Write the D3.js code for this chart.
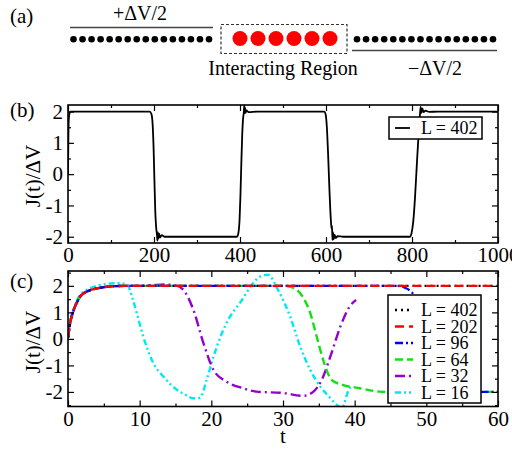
<!DOCTYPE html>
<html>
<head>
<meta charset="utf-8">
<script src="https://cdn.jsdelivr.net/npm/d3@7"></script>
<style>
body { margin: 0; background: #fff; }
text { font-family: "Liberation Serif", "DejaVu Serif", "Times New Roman", serif; fill: #000; }
</style>
</head>
<body>
<div id="chart"></div>
<script>
// --- panel (a): lead sites and interacting region
var leftSites = [0, 1, 2, 3, 4, 5, 6, 7, 8, 9, 10, 11, 12, 13, 14, 15];
var rightSites = [0, 1, 2, 3, 4, 5, 6, 7, 8, 9, 10, 11, 12, 13, 14, 15];
var dotSites = [0, 1, 2, 3, 4, 5];
var biasLabels = ['+\u0394V/2', '\u2212\u0394V/2'];

// --- panel (b): L = 402, long times
var tB = [0, 1, 2, 4, 6, 190, 194, 197, 199, 201, 203, 205, 207, 208, 209, 210, 212, 214, 218, 225,
	393, 396, 399, 401, 403, 405, 407, 409, 410, 411, 412, 413, 415, 420, 440,
	596, 599, 602, 605, 608, 611, 613, 614, 615, 616, 618, 620, 623, 627, 640,
	795, 799, 803, 807, 811, 815, 818, 820, 822, 824, 827, 831, 840, 860, 1000];
var jB = [0, 1.3, 1.8, 1.97, 2.0, 2.0, 1.92, 1.55, 0.85, -0.2, -1.2, -1.7, -1.95, -2.12, -1.86, -2.06, -1.9, -2.03, -1.95, -2.0,
	-2.0, -1.9, -1.45, -0.7, 0.3, 1.2, 1.75, 2.0, 2.2, 1.95, 2.12, 1.96, 2.04, 1.98, 2.0,
	2.0, 1.92, 1.5, 0.6, -0.5, -1.4, -1.75, -1.65, -2.1, -1.85, -2.08, -1.94, -2.04, -1.98, -2.0,
	-2.0, -1.88, -1.5, -0.75, 0.25, 1.2, 1.8, 2.15, 1.96, 2.1, 1.98, 2.03, 1.99, 2.0, 2.0];
var xTicksB = [0, 200, 400, 600, 800, 1000];
var yTicks = [-2, -1, 0, 1, 2];

// --- panel (c): short times, several lengths
var riseT = [0, 0.3, 0.75, 1.2, 1.7, 2.3, 3, 4, 5, 6, 8];
var riseJ = [0.05, 0.6, 1.05, 1.35, 1.6, 1.74, 1.83, 1.9, 1.95, 1.98, 2.0];

var t402 = riseT.concat([60]);
var j402 = riseJ.concat([2.0]);
var t202 = riseT.concat([60]);
var j202 = riseJ.concat([2.0]);
var t96 = riseT.concat([46, 47, 48, 50, 52, 54, 56, 58, 60]);
var j96 = riseJ.concat([2.0, 1.93, 1.75, 0.6, -1.2, -1.85, -2.0, -2.0, -2.0]);
var t64 = riseT.concat([20, 30, 31.2, 32.4, 33.8, 34.7, 35.6, 36.8, 38.4, 40.7, 43.5, 47, 52, 60]);
var j64 = riseJ.concat([2.0, 2.0, 1.95, 1.72, 0.97, 0.09, -0.79, -1.55, -1.74, -1.86, -1.99, -2.02, -2.0, -2.0]);
var t32 = riseT.concat([10, 12, 13.5, 15, 16.1, 17.5, 18.9, 20.3, 22.1, 24.4, 26.3, 30, 32.8, 34.2, 35.4, 36.6, 38, 39.3, 40.2]);
var j32 = riseJ.concat([2.0, 2.03, 2.05, 2.02, 1.85, 1.09, -0.16, -1.17, -1.61, -1.86, -1.99, -2.04, -2.15, -2.0, -1.55, -0.67, 0.46, 1.22, 1.47]);
var t16 = [0, 0.3, 0.75, 1.2, 1.7, 2.3, 3, 4, 5, 6, 7, 8.2, 9.07, 9.6, 10.5, 11.9, 13.3, 15.2, 16.5, 17.5, 18.4,
	19.35, 20.3, 22.1, 24, 26.8, 27.9, 29.3, 31, 32.4, 33.8, 35.2, 36.5, 37.5, 38.2, 39.3, 39.8];
var j16 = [0.05, 0.65, 1.1, 1.42, 1.66, 1.8, 1.9, 2.0, 2.06, 2.09, 2.1, 2.06, 1.47, 0.97, 0.09, -0.91, -1.42, -1.92, -2.12, -2.24, -2.22,
	-1.55, -0.67, 0.59, 1.36, 2.35, 2.42, 1.85, 0.84, -0.29, -1.17, -1.8, -2.2, -2.49, -2.6, -1.86, -1.8];
var xTicksC = [0, 10, 20, 30, 40, 50, 60];

var legendLabels = ['L = 402', 'L = 202', 'L = 96', 'L = 64', 'L = 32', 'L = 16'];
var seriesT = [t402, t202, t96, t64, t32, t16];
var seriesJ = [j402, j202, j96, j64, j32, j16];
var colors = ['#000000', '#ff0000', '#0000ff', '#11e011', '#9400d3', '#00e8f0'];
var dashes = ['2,4', '9,5', '8,3,2,3', '8,4', '10,4,2,4', '6,3,2,3,2,3'];

var serif = '"Liberation Serif", "DejaVu Serif", "Times New Roman", serif';

var svg = d3.select('#chart').append('svg')
	.attr('width', 512)
	.attr('height', 450);

svg.append('rect').attr('width', 512).attr('height', 450).attr('fill', '#fff');

// ---------- (a)
var ga = svg.append('g');
ga.append('text').attr('x', 10).attr('y', 23).style('font-size', '21px').text('(a)');

var xLeft = d3.scaleLinear().domain([0, 15]).range([73.5, 209]);
var xRight = d3.scaleLinear().domain([0, 15]).range([357, 493]);
var xDots = d3.scaleLinear().domain([0, 5]).range([240, 330]);

ga.selectAll('.ls').data(leftSites).enter().append('circle')
	.attr('cx', function(d) { return xLeft(d); })
	.attr('cy', 39.3)
	.attr('r', 3.3)
	.attr('fill', '#000');
ga.selectAll('.rs').data(rightSites).enter().append('circle')
	.attr('cx', function(d) { return xRight(d); })
	.attr('cy', 39.3)
	.attr('r', 3.3)
	.attr('fill', '#000');
ga.selectAll('.ds').data(dotSites).enter().append('circle')
	.attr('cx', function(d) { return xDots(d); })
	.attr('cy', 38.5)
	.attr('r', 7.5)
	.attr('fill', '#ff0000');

ga.append('rect')
	.attr('x', 221).attr('y', 24.5)
	.attr('width', 126).attr('height', 29)
	.attr('fill', 'none')
	.attr('stroke', '#333')
	.attr('stroke-width', 1.2)
	.attr('stroke-dasharray', '3,2');

ga.append('line').attr('x1', 70).attr('x2', 213).attr('y1', 27.5).attr('y2', 27.5)
	.attr('stroke', '#444').attr('stroke-width', 1.5);
ga.append('line').attr('x1', 352).attr('x2', 497).attr('y1', 50.5).attr('y2', 50.5)
	.attr('stroke', '#444').attr('stroke-width', 1.5);

ga.append('text').attr('x', 140).attr('y', 20).attr('text-anchor', 'middle')
	.style('font-size', '20px').text(biasLabels[0]);
ga.append('text').attr('x', 435).attr('y', 75).attr('text-anchor', 'middle')
	.style('font-size', '20px').text(biasLabels[1]);
ga.append('text').attr('x', 283).attr('y', 75).attr('text-anchor', 'middle')
	.style('font-size', '20px').text('Interacting Region');

// ---------- frame helper
function drawFrame(g, x, y, xMajor, xMinor, yMajor, yMinor, labelPad) {
	var w = x.range()[1] - x.range()[0];
	var h = y.range()[0] - y.range()[1];
	var x0 = x.range()[0], y0 = y.range()[1];

	g.append('g').attr('transform', 'translate(0,' + (y0 + h) + ')')
		.call(d3.axisBottom(x).tickValues(xMinor).tickSize(-3).tickFormat(''));
	g.append('g').attr('transform', 'translate(0,' + y0 + ')')
		.call(d3.axisTop(x).tickValues(xMinor).tickSize(-3).tickFormat(''));
	g.append('g').attr('transform', 'translate(' + x0 + ',0)')
		.call(d3.axisLeft(y).tickValues(yMinor).tickSize(-3).tickFormat(''));
	g.append('g').attr('transform', 'translate(' + (x0 + w) + ',0)')
		.call(d3.axisRight(y).tickValues(yMinor).tickSize(-3).tickFormat(''));

	g.append('g').attr('class', 'xax').attr('transform', 'translate(0,' + (y0 + h) + ')')
		.call(d3.axisBottom(x).tickValues(xMajor).tickSize(-6).tickPadding(labelPad).tickFormat(d3.format('d')));
	g.append('g').attr('transform', 'translate(0,' + y0 + ')')
		.call(d3.axisTop(x).tickValues(xMajor).tickSize(-6).tickFormat(''));
	g.append('g').attr('class', 'yax').attr('transform', 'translate(' + x0 + ',0)')
		.call(d3.axisLeft(y).tickValues(yMajor).tickSize(-6).tickPadding(5).tickFormat(d3.format('d')));
	g.append('g').attr('transform', 'translate(' + (x0 + w) + ',0)')
		.call(d3.axisRight(y).tickValues(yMajor).tickSize(-6).tickFormat(''));

	g.selectAll('g').attr('font-family', null);
	g.selectAll('.domain').remove();
	g.selectAll('.tick line').attr('stroke', '#000').attr('stroke-width', 1.2);
	g.selectAll('.tick text')
		.style('font-family', serif)
		.style('font-size', '21px')
		.attr('fill', '#000');
	g.selectAll('.yax .tick text').text(function(d) { return d < 0 ? '-' + Math.abs(d) : d; });

	g.append('rect')
		.attr('x', x0).attr('y', y0)
		.attr('width', w).attr('height', h)
		.attr('fill', 'none')
		.attr('stroke', '#000')
		.attr('stroke-width', 1.6);
}

// ---------- (b)
var xB = d3.scaleLinear().domain([0, 1000]).range([68, 498]);
var yB = d3.scaleLinear().domain([-2.2, 2.21]).range([243, 105]);
var gb = svg.append('g');

gb.append('clipPath').attr('id', 'clipB').append('rect')
	.attr('x', 68).attr('y', 105).attr('width', 430).attr('height', 138);

var lineB = d3.line()
	.x(function(d) { return xB(d[0]); })
	.y(function(d) { return yB(d[1]); })
	.curve(d3.curveMonotoneX);

gb.append('path')
	.attr('d', lineB(d3.zip(tB, jB)))
	.attr('clip-path', 'url(#clipB)')
	.attr('fill', 'none')
	.attr('stroke', '#000')
	.attr('stroke-width', 1.8);

drawFrame(gb, xB, yB, xTicksB, [100, 300, 500, 700, 900], yTicks, [-1.5, -0.5, 0.5, 1.5], 4);

gb.append('text').attr('x', 10).attr('y', 117).style('font-size', '21px').text('(b)');
gb.append('text')
	.attr('transform', 'translate(40,176) rotate(-90)')
	.attr('text-anchor', 'middle')
	.style('font-size', '21px')
	.text('J(t)/\u0394V');

gb.append('rect').attr('x', 389).attr('y', 117).attr('width', 93).attr('height', 22)
	.attr('fill', '#fff').attr('stroke', '#000').attr('stroke-width', 1.5);
gb.append('line').attr('x1', 395).attr('x2', 410).attr('y1', 128).attr('y2', 128)
	.attr('stroke', '#000').attr('stroke-width', 1.8);
gb.append('text').attr('x', 421).attr('y', 134).style('font-size', '18px').text('L = 402');

// ---------- (c)
var xC = d3.scaleLinear().domain([0, 60]).range([68, 498]);
var yC = d3.scaleLinear().domain([-2.55, 2.56]).range([406.5, 271]);
var gc = svg.append('g');

gc.append('clipPath').attr('id', 'clipC').append('rect')
	.attr('x', 68).attr('y', 271).attr('width', 430).attr('height', 135.5);

var lineC = d3.line()
	.x(function(d) { return xC(d[0]); })
	.y(function(d) { return yC(d[1]); })
	.curve(d3.curveMonotoneX);

// draw L=16 first so the flat lines sit on top like the original
var order = [5, 4, 3, 0, 2, 1];
order.forEach(function(i) {
	gc.append('path')
		.attr('d', lineC(d3.zip(seriesT[i], seriesJ[i])))
		.attr('clip-path', 'url(#clipC)')
		.attr('fill', 'none')
		.attr('stroke', colors[i])
		.attr('stroke-width', 2.4)
		.attr('stroke-dasharray', dashes[i]);
});

drawFrame(gc, xC, yC, xTicksC, [5, 15, 25, 35, 45, 55], yTicks, [-2.5, -1.5, -0.5, 0.5, 1.5, 2.5], 5);

gc.append('text').attr('x', 10).attr('y', 288).style('font-size', '21px').text('(c)');
gc.append('text')
	.attr('transform', 'translate(40,342) rotate(-90)')
	.attr('text-anchor', 'middle')
	.style('font-size', '21px')
	.text('J(t)/\u0394V');
gc.append('text').attr('x', 283).attr('y', 443).attr('text-anchor', 'middle')
	.style('font-size', '21px').text('t');

var legC = gc.append('g');
legC.append('rect').attr('x', 388).attr('y', 295).attr('width', 93).attr('height', 108)
	.attr('fill', '#fff').attr('stroke', '#000').attr('stroke-width', 1.5);
var rowY = d3.scaleLinear().domain([0, 5]).range([310, 392.5]);
legC.selectAll('.li').data(legendLabels).enter().append('line')
	.attr('x1', 395).attr('x2', 413)
	.attr('y1', function(d, i) { return rowY(i); })
	.attr('y2', function(d, i) { return rowY(i); })
	.attr('stroke', function(d, i) { return colors[i]; })
	.attr('stroke-width', 2.4)
	.attr('stroke-dasharray', function(d, i) { return dashes[i]; });
legC.selectAll('.lt').data(legendLabels).enter().append('text')
	.attr('x', 421)
	.attr('y', function(d, i) { return rowY(i) + 6; })
	.style('font-size', '18px')
	.text(function(d) { return d; });
</script>
</body>
</html>
